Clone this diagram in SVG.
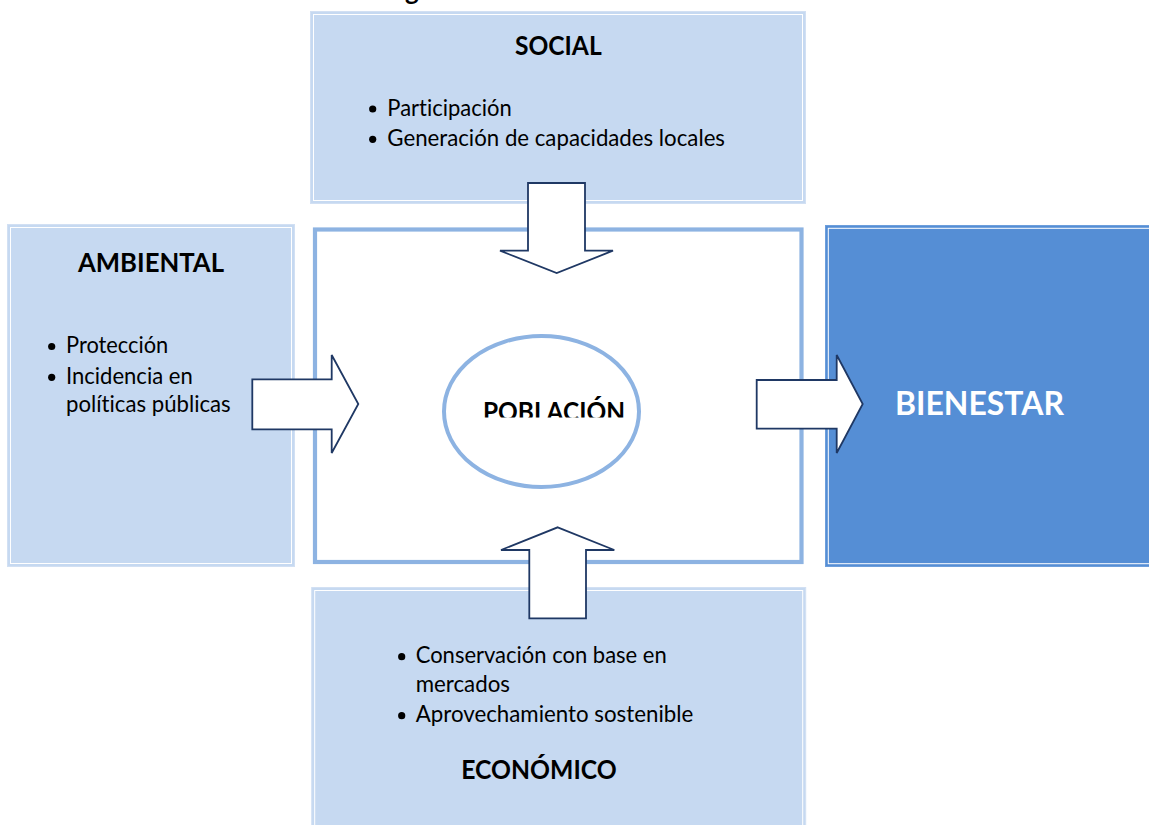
<svg xmlns="http://www.w3.org/2000/svg" width="1149" height="825" viewBox="0 0 1149 825">
<defs>
<style>
.lbox{fill:#c6d9f1;stroke:#d2e0f3;stroke-width:1}
.inner{fill:none;stroke:#ffffff;stroke-width:1}
.title{font-family:Lato,"Open Sans",sans-serif;font-weight:bold;font-size:26px;fill:#000000}
.body{font-family:Lato,"Open Sans",sans-serif;font-size:23px;fill:#000000;font-variant-ligatures:none}
.bul{fill:#000000}
.arrow{fill:#ffffff;stroke:#1f3864;stroke-width:1.8;stroke-linejoin:miter}
</style>
<clipPath id="popclip"><rect x="430" y="380" width="230" height="37.5"/></clipPath>
</defs>
<rect x="0" y="0" width="1149" height="825" fill="#ffffff"/>
<text class="title" x="405" y="0">g</text>

<g id="social">
<rect class="lbox" x="310.5" y="11.5" width="495" height="192"/>
<rect class="inner" x="313.5" y="14.5" width="489" height="186"/>
<text class="title" x="515" y="55" textLength="86.7" lengthAdjust="spacingAndGlyphs">SOCIAL</text>
<circle class="bul" cx="372.7" cy="109" r="3.6"/>
<text class="body" x="387.3" y="115.7" textLength="124.4" lengthAdjust="spacingAndGlyphs">Participación</text>
<circle class="bul" cx="372.7" cy="139.3" r="3.6"/>
<text class="body" x="387.3" y="146" textLength="337.7" lengthAdjust="spacingAndGlyphs">Generación de capacidades locales</text>
</g>

<g id="ambiental">
<rect class="lbox" x="7.5" y="224.5" width="287" height="342"/>
<rect class="inner" x="10.5" y="227.5" width="281" height="336"/>
<text class="title" x="78" y="271.7" textLength="146" lengthAdjust="spacingAndGlyphs">AMBIENTAL</text>
<circle class="bul" cx="51.7" cy="346.5" r="3.6"/>
<text class="body" x="66" y="353.3" textLength="102.3" lengthAdjust="spacingAndGlyphs">Protección</text>
<circle class="bul" cx="51.7" cy="377.3" r="3.6"/>
<text class="body" x="66" y="384" textLength="126.7" lengthAdjust="spacingAndGlyphs">Incidencia en</text>
<text class="body" x="66" y="411.7" textLength="164.7" lengthAdjust="spacingAndGlyphs">políticas públicas</text>
</g>

<g id="bienestar">
<rect x="825.5" y="225.5" width="330" height="341" fill="#558ed5" stroke="#6d9edb" stroke-width="1"/>
<rect class="inner" x="828.3" y="228.3" width="330" height="335.4"/>
<text x="895" y="415" textLength="169" lengthAdjust="spacingAndGlyphs" style="font-family:Lato,'Open Sans',sans-serif;font-weight:bold;font-size:32px;fill:#ffffff">BIENESTAR</text>
</g>

<g id="economico">
<rect class="lbox" x="311.7" y="587.5" width="494" height="250"/>
<rect class="inner" x="314.7" y="590.5" width="488" height="250"/>
<circle class="bul" cx="401.7" cy="656.7" r="3.6"/>
<text class="body" x="415.7" y="663.3" textLength="251" lengthAdjust="spacingAndGlyphs">Conservación con base en</text>
<text class="body" x="415.7" y="691.7" textLength="94.3" lengthAdjust="spacingAndGlyphs">mercados</text>
<circle class="bul" cx="401.7" cy="715.7" r="3.6"/>
<text class="body" x="415.7" y="722.3" textLength="277.6" lengthAdjust="spacingAndGlyphs">Aprovechamiento sostenible</text>
<text class="title" x="461.3" y="779.3" textLength="155.4" lengthAdjust="spacingAndGlyphs">ECONÓMICO</text>
</g>

<g id="centro">
<rect x="315" y="229.5" width="486.5" height="332.5" fill="#ffffff" stroke="#8db3e2" stroke-width="4.2"/>
</g>

<g id="poblacion">
<ellipse cx="541.5" cy="411.5" rx="97.5" ry="75.5" fill="#ffffff" stroke="#8db3e2" stroke-width="4"/>
<text class="title" x="483" y="420.5" textLength="142" lengthAdjust="spacingAndGlyphs" clip-path="url(#popclip)">POBLACIÓN</text>
</g>

<g id="connectors">
<polygon class="arrow" points="528,183 585,183 585,250.7 613,250.7 556.7,273 500,250.7 528,250.7"/>
<polygon class="arrow" points="252.3,379.3 331.7,379.3 331.7,355 358.3,404 331.7,453 331.7,429.3 252.3,429.3"/>
<polygon class="arrow" points="756.7,380 836.7,380 836.7,355 862.7,404 836.7,453 836.7,428.7 756.7,428.7"/>
<polygon class="arrow" points="557.7,527.3 614.3,550 586,550 586,618.3 529.3,618.3 529.3,550 501,550"/>
</g>
</svg>
